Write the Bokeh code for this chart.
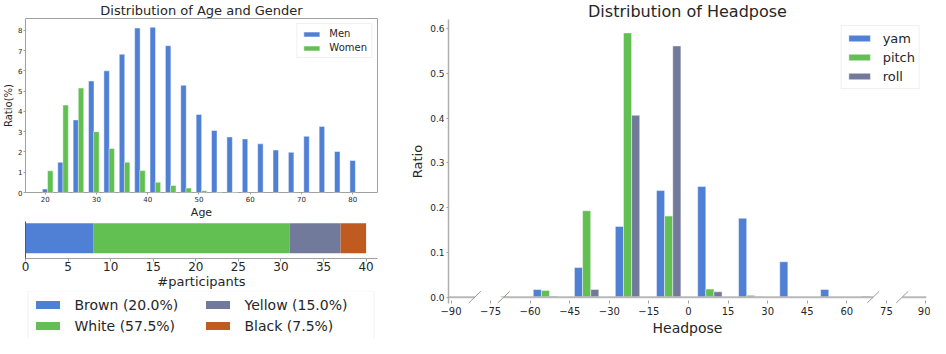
import numpy as np
from bokeh.plotting import figure
from bokeh.models import (Range1d, FixedTicker, Legend, LegendItem,
                          NumeralTickFormatter, CustomJSTickFormatter)
from bokeh.layouts import row, column
from bokeh.embed import file_html
from bokeh.resources import INLINE

FONT = "DejaVu Sans"
TEXT = "#262626"
BLUE = "#4f80d5"
GREEN = "#62c052"
SLATE = "#717a9a"
ORANGE = "#bf5a21"
SPINE = "#a0a0a0"

# ---------------- data: age / gender ----------------
age_bins = [20, 23, 26, 29, 32, 35, 38, 41, 44, 47, 50, 53, 56, 59, 62, 65, 68, 71, 74, 77, 80]
men_ratio = [0.17, 1.49, 3.58, 5.50, 6.00, 6.82, 8.11, 8.15, 7.24, 5.29, 3.85,
             3.06, 2.74, 2.64, 2.40, 2.09, 1.98, 2.77, 3.26, 2.02, 1.58]
women_ratio = [1.07, 4.31, 5.15, 3.00, 2.17, 1.49, 1.08, 0.51, 0.35, 0.22, 0.09,
               0.03, 0.02, 0, 0, 0, 0, 0, 0, 0, 0]
age_ticks = [20, 30, 40, 50, 60, 70, 80]
ratio_ticks = [0, 1, 2, 3, 4, 5, 6, 7, 8]

# ---------------- data: race ----------------
races = ["Brown", "White", "Yellow", "Black"]
race_counts = [8, 23, 6, 3]
race_colors = [BLUE, GREEN, SLATE, ORANGE]
participant_ticks = [0, 5, 10, 15, 20, 25, 30, 35, 40]

# ---------------- data: head pose ----------------
pose_bins = [-69.7, -54.2, -38.6, -23.1, -7.5, 8.1, 23.6, 39.2, 54.7, 70.3]
yam = [0.0, 0.017, 0.066, 0.158, 0.238, 0.247, 0.176, 0.079, 0.017, 0.002]
pitch = [0.002, 0.015, 0.193, 0.590, 0.181, 0.018, 0.004, 0.0, 0.0, 0.0]
roll = [0.0, 0.002, 0.017, 0.406, 0.561, 0.012, 0.001, 0.0, 0.0, 0.0]
pose_ticks = [-90, -75, -60, -45, -30, -15, 0, 15, 30, 45, 60, 75, 90]
pose_ratio_ticks = [0.0, 0.1, 0.2, 0.3, 0.4, 0.5, 0.6]
pose_breaks = [-81.0, -70.0, 70.0, 81.0]


def base_style(p):
    p.grid.visible = False
    for ax in p.axis:
        ax.major_label_text_font = FONT
        ax.axis_label_text_font = FONT
        ax.major_label_text_color = TEXT
        ax.axis_label_text_color = TEXT
        ax.axis_label_text_font_style = "normal"
        ax.minor_tick_line_color = None
        ax.major_tick_in = 0
        ax.major_tick_line_color = SPINE
    p.title.text_font = FONT
    p.title.text_font_style = "normal"
    p.title.text_color = TEXT
    p.title.align = "center"


def nz(xs, vs):
    xs = np.asarray(xs, dtype=float)
    vs = np.asarray(vs, dtype=float)
    m = vs > 0
    return xs[m], vs[m]


# ======== Panel 1: Age & gender ========
p1 = figure(width=400, height=221, x_range=Range1d(16.17, 84.85), y_range=Range1d(0, 8.58),
            title="Distribution of Age and Gender", output_backend="svg",
            toolbar_location=None, min_border_left=16, min_border_right=20,
            min_border_top=17, min_border_bottom=23)
base_style(p1)
p1.title.text_font_size = "13px"
p1.title.standoff = 1
mx, mv = nz(age_bins, men_ratio)
wx, wv = nz(np.asarray(age_bins) + 1.0, women_ratio)
r_men = p1.vbar(x=mx, top=mv, width=1.07, fill_color=BLUE, line_color="white",
                line_alpha=0.45, line_width=1)
r_women = p1.vbar(x=wx, top=wv, width=1.07, fill_color=GREEN, line_color="white",
                  line_alpha=0.45, line_width=1)
p1.outline_line_color = SPINE
p1.xaxis.axis_line_color = None
p1.yaxis.axis_line_color = None
p1.xaxis.ticker = FixedTicker(ticks=age_ticks)
p1.yaxis.ticker = FixedTicker(ticks=ratio_ticks)
p1.xaxis.major_label_text_font_size = "7px"
p1.yaxis.major_label_text_font_size = "7px"
p1.xaxis.axis_label = "Age"
p1.yaxis.axis_label = "Ratio(%)"
p1.xaxis.axis_label_text_font_size = "11px"
p1.yaxis.axis_label_text_font_size = "10px"
for ax in p1.axis:
    ax.major_tick_out = 2
    ax.major_label_standoff = 1
    ax.axis_label_standoff = 1
leg1 = Legend(items=[LegendItem(label="Men", renderers=[r_men]),
                     LegendItem(label="Women", renderers=[r_women])],
              location="top_right", glyph_width=20, glyph_height=6,
              label_text_font=FONT, label_text_font_size="10px", label_text_color=TEXT,
              label_standoff=8, label_height=11, spacing=3, padding=4, margin=5,
              border_line_color="#e2e2e2", background_fill_color="white")
p1.add_layout(leg1)

# ======== Panel 2: race stacked bar ========
p2 = figure(width=400, height=70, x_range=Range1d(0, 41.34), y_range=Range1d(-0.541, 0.447),
            output_backend="svg", toolbar_location=None, min_border_left=16,
            min_border_right=23, min_border_top=0, min_border_bottom=28)
base_style(p2)
counts = np.asarray(race_counts, dtype=float)
rights = np.cumsum(counts)
lefts = rights - counts
total = counts.sum()
for l, r, col in zip(lefts, rights, race_colors):
    p2.hbar(y=[0], left=[l], right=[r], height=0.8, fill_color=col, line_color=None)
p2.outline_line_color = None
p2.xaxis.ticker = FixedTicker(ticks=participant_ticks)
p2.xaxis.major_label_text_font_size = "12px"
p2.xaxis.axis_label = "#participants"
p2.xaxis.axis_label_text_font_size = "13px"
p2.xaxis.axis_line_color = SPINE
p2.xaxis.major_tick_out = 3
p2.xaxis.major_label_standoff = 0
p2.xaxis.axis_label_standoff = 0
p2.yaxis.ticker = FixedTicker(ticks=[])
p2.yaxis.axis_line_color = "#555555"
p2.yaxis.major_tick_out = 0

# legend panel for the race bar (same bars, kept outside this panel's view)
pl = figure(width=400, height=47, x_range=Range1d(0, 41.34), y_range=Range1d(5, 6),
            output_backend="svg", toolbar_location=None, min_border=0,
            x_axis_location=None, y_axis_location=None)
pl.outline_line_color = None
pl.grid.visible = False
items2 = []
for name, l, r, c, col in zip(races, lefts, rights, counts, race_colors):
    rr = pl.hbar(y=[0], left=[l], right=[r], height=0.8, fill_color=col, line_color=None)
    items2.append(LegendItem(label=f"{name} ({c / total * 100:.1f}%)", renderers=[rr]))
leg2 = Legend(items=items2, location="center", ncols=2, glyph_width=30, glyph_height=10,
              label_text_font=FONT, label_text_font_size="14px", label_text_color=TEXT,
              label_standoff=12, label_width=125, label_height=18, spacing=3, padding=4,
              margin=0, border_line_color="#e6e6e6", background_fill_color="white")
pl.add_layout(leg2)

# ======== Panel 3: head pose ========
p3 = figure(width=530, height=338, x_range=Range1d(-90.95, 90.2), y_range=Range1d(-0.0142, 0.620),
            title="Distribution of Headpose", output_backend="svg", toolbar_location=None,
            min_border_left=48, min_border_right=4, min_border_top=16, min_border_bottom=33)
base_style(p3)
p3.title.text_font_size = "16px"
p3.title.standoff = -2
p3.outline_line_color = None
bw = 3.08
centers = np.asarray(pose_bins, dtype=float)
rends = []
for vals, off, col in ((yam, -bw, BLUE), (pitch, 0.0, GREEN), (roll, bw, SLATE)):
    xx, vv = nz(centers + off, vals)
    rends.append(p3.vbar(x=xx, top=vv, width=bw, fill_color=col, line_color="white",
                         line_alpha=0.45, line_width=1))
# broken baseline
x0 = p3.x_range.start
x1 = p3.x_range.end
b = pose_breaks
p3.segment(x0=[x0, b[1], b[3]], y0=[0, 0, 0], x1=[b[0], b[2], x1], y1=[0, 0, 0],
           line_color="#b8b8b8", line_width=2)
dx, dy = 2.3, 0.0131
bb = np.asarray(pose_breaks)
p3.segment(x0=bb - dx, y0=[-dy] * 4, x1=bb + dx, y1=[dy] * 4, line_color="#9a9a9a", line_width=1)
p3.xaxis.axis_line_color = None
p3.xaxis.ticker = FixedTicker(ticks=pose_ticks)
p3.xaxis.formatter = CustomJSTickFormatter(
    code="return tick < 0 ? '\u2212' + Math.abs(tick) : String(tick);")
p3.xaxis.major_tick_in = 3
p3.xaxis.major_tick_out = 0
p3.xaxis.major_label_standoff = 3
p3.xaxis.major_label_text_font_size = "10px"
p3.xaxis.axis_label = "Headpose"
p3.xaxis.axis_label_text_font_size = "14px"
p3.xaxis.axis_label_standoff = 2
p3.yaxis.ticker = FixedTicker(ticks=pose_ratio_ticks)
p3.yaxis.formatter = NumeralTickFormatter(format="0.0")
p3.yaxis.major_label_text_font_size = "9px"
p3.yaxis.axis_line_color = "#b0b0b0"
p3.yaxis.axis_line_width = 1.5
p3.yaxis.major_tick_out = 2
p3.yaxis.major_label_standoff = 2
p3.yaxis.axis_label = "Ratio"
p3.yaxis.axis_label_text_font_size = "13px"
p3.yaxis.axis_label_standoff = 2
leg3 = Legend(items=[LegendItem(label=n, renderers=[r]) for n, r in zip(["yam", "pitch", "roll"], rends)],
              location="top_right", glyph_width=27, glyph_height=8,
              label_text_font=FONT, label_text_font_size="13px", label_text_color=TEXT,
              label_standoff=10, label_height=16, spacing=3, padding=4, margin=6,
              border_line_color="#e2e2e2", background_fill_color="white")
p3.add_layout(leg3)

layout = row(column(p1, p2, pl, spacing=0), p3, spacing=0)
open("out.html", "w").write(file_html(layout, INLINE))
